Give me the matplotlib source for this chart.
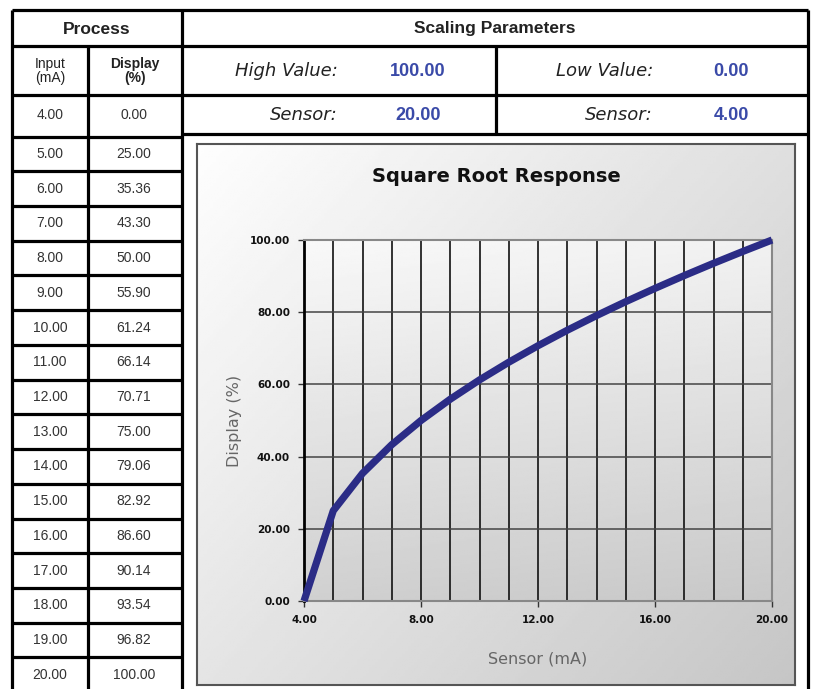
import numpy as np
import matplotlib
matplotlib.use("Agg")
import matplotlib.pyplot as plt
from matplotlib.ticker import MultipleLocator, FormatStrFormatter

input_ma = [4.00, 5.00, 6.00, 7.00, 8.00, 9.00, 10.00, 11.00, 12.00,
            13.00, 14.00, 15.00, 16.00, 17.00, 18.00, 19.00, 20.00]
display_pct = [0.00, 25.00, 35.36, 43.30, 50.00, 55.90, 61.24, 66.14, 70.71,
               75.00, 79.06, 82.92, 86.60, 90.14, 93.54, 96.82, 100.00]
high_value = 100.00
low_value = 0.00
high_sensor = 20.00
low_sensor = 4.00

W, H = 816, 689
fig = plt.figure(figsize=(W / 100, H / 100), dpi=100)
fig.patch.set_facecolor("white")

# background axes in pixel coords for the table
bg = fig.add_axes([0, 0, 1, 1])
bg.set_xlim(0, W)
bg.set_ylim(H, 0)
bg.axis("off")

lw = 2.3
k = "black"
tfont = "Liberation Sans"
blue = "#3a4aa8"
grey_txt = "#333333"

# outer verticals
bg.vlines([12, 182, 808], 10, H + 5, color=k, lw=lw)
bg.vlines([88], 46, 136, color=k, lw=lw)
bg.vlines([496], 46, 134, color=k, lw=lw)
bg.hlines(10, 12, 808, color=k, lw=lw)
bg.hlines(46, 12, 808, color=k, lw=lw)
bg.hlines(95, 12, 808, color=k, lw=lw)
bg.hlines(134, 182, 808, color=k, lw=lw)

# left table rows
row0 = 136.5
rh = 34.73
n_rows = len(input_ma) - 1
bg.vlines([88], row0, H + 5, color=k, lw=lw)
for i in range(n_rows + 1):
    bg.hlines(row0 + i * rh, 12, 182, color=k, lw=lw)

# header text
bg.text(97, 29, "Process", ha="center", va="center", fontsize=12.5,
        family=tfont, fontweight="bold", color="#222222")
bg.text(495, 29, "Scaling Parameters", ha="center", va="center",
        fontsize=12.5, family=tfont, fontweight="bold", color="#222222")
bg.text(50, 71, "Input\n(mA)", ha="center", va="center", fontsize=10,
        family=tfont, color="#222222", linespacing=1.0)
bg.text(135, 71, "Display\n(%)", ha="center", va="center", fontsize=10,
        family=tfont, fontweight="bold", color="#222222", linespacing=1.0)

# scaling parameters
for lab, val, xr, xv, y in [("High Value:", high_value, 338, 418, 71),
                            ("Low Value:", low_value, 653, 731, 71),
                            ("Sensor:", high_sensor, 338, 418, 115),
                            ("Sensor:", low_sensor, 653, 731, 115)]:
    bg.text(xr, y, lab, ha="right", va="center", fontsize=13, style="italic",
            family="DejaVu Sans", color="#222222")
    bg.text(xv, y, "%.2f" % val, ha="center", va="center", fontsize=13,
            family=tfont, fontweight="bold", color=blue)

# table values
bg.text(50, 115, "%.2f" % input_ma[0], ha="center", va="center", fontsize=10,
        family=tfont, color=grey_txt)
bg.text(134, 115, "%.2f" % display_pct[0], ha="center", va="center",
        fontsize=10, family=tfont, color=grey_txt)
for i in range(1, len(input_ma)):
    y = row0 + (i - 1) * rh + rh / 2
    bg.text(50, y, "%.2f" % input_ma[i], ha="center", va="center", fontsize=10,
            family=tfont, color=grey_txt)
    bg.text(134, y, "%.2f" % display_pct[i], ha="center", va="center",
            fontsize=10, family=tfont, color=grey_txt)

# chart panel with diagonal gradient
px0, py0, px1, py1 = 197, 144, 795, 685
panel = fig.add_axes([px0 / W, 1 - py1 / H, (px1 - px0) / W, (py1 - py0) / H])
u = np.linspace(0, 1, 200)
v = np.linspace(0, 1, 200)
U, V = np.meshgrid(u, v)
grad = 0.995 - 0.22 * (0.55 * U + 0.45 * V)
panel.imshow(grad, cmap="gray", vmin=0, vmax=1, aspect="auto",
             extent=[0, 1, 1, 0])
panel.set_xlim(0, 1)
panel.set_ylim(1, 0)
panel.set_xticks([])
panel.set_yticks([])
for s in panel.spines.values():
    s.set_color("#555555")
    s.set_linewidth(1.5)

panel.text(0.5, 1 - 0.06, "Square Root Response", ha="center", va="center",
           fontsize=14, fontweight="heavy", family="DejaVu Sans",
           color="#111111", transform=panel.transAxes)

# plot area
ax0, ay_top, ax1, ay_bot = 304, 240, 772, 601
ax = fig.add_axes([ax0 / W, 1 - ay_bot / H, (ax1 - ax0) / W, (ay_bot - ay_top) / H])
g2 = 0.975 - 0.16 * V - 0.03 * U
ax.imshow(g2, cmap="gray", vmin=0, vmax=1, aspect="auto",
          extent=[low_sensor, high_sensor, low_value, high_value], zorder=0)
ax.set_xlim(low_sensor, high_sensor)
ax.set_ylim(low_value, high_value)

ax.xaxis.set_major_locator(MultipleLocator(4))
ax.xaxis.set_minor_locator(MultipleLocator(1))
ax.yaxis.set_major_locator(MultipleLocator(20))
ax.xaxis.set_major_formatter(FormatStrFormatter("%.2f"))
ax.yaxis.set_major_formatter(FormatStrFormatter("%.2f"))
ax.grid(which="both", axis="x", color="#111111", lw=1.2, zorder=1)
ax.grid(which="major", axis="y", color="#444444", lw=1.1, zorder=1)
ax.set_axisbelow(True)

ax.plot(input_ma, display_pct, color="#2b2c86", lw=5.2, solid_capstyle="butt",
        zorder=3, clip_on=False)

for s in ["top", "right", "bottom"]:
    ax.spines[s].set_color("#888888")
    ax.spines[s].set_linewidth(1.5)
ax.spines["left"].set_color("black")
ax.spines["left"].set_linewidth(2)

ax.tick_params(axis="both", which="major", length=4, width=1, color="#333333",
               labelsize=7.5, pad=6)
ax.tick_params(axis="x", which="minor", length=0)
for lab in ax.get_xticklabels() + ax.get_yticklabels():
    lab.set_fontweight("bold")
    lab.set_family("DejaVu Sans")
    lab.set_color("#111111")

ax.set_xlabel("Sensor (mA)", fontsize=11.5, color="#666666", labelpad=19,
              family="DejaVu Sans")
ax.set_ylabel("Display (%)", fontsize=11.5, color="#666666", labelpad=6,
              family="DejaVu Sans")

fig.savefig("out.png", dpi=100)
